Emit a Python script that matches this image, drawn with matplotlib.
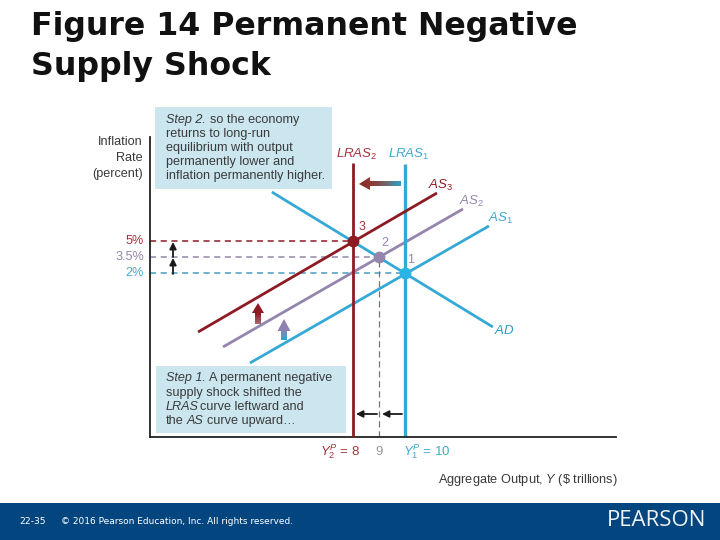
import numpy as np
import matplotlib
matplotlib.use("Agg")
import matplotlib.pyplot as plt
from matplotlib.colors import LinearSegmentedColormap
from matplotlib.patches import Polygon, Rectangle

plt.rcParams['font.family'] = ['Liberation Sans', 'DejaVu Sans']
plt.rcParams['mathtext.fontset'] = 'custom'
plt.rcParams['mathtext.rm'] = 'Liberation Sans'
plt.rcParams['mathtext.it'] = 'Liberation Sans:italic'

# ---- data (output in $ trillions, inflation in percent) ----
ad_x = [4.88, 13.38];   ad_y = [9.59, -3.06]
as1_x = [4.04, 13.23];  as1_y = [-6.43, 6.41]
as2_x = [3.00, 12.23];  as2_y = [-4.93, 8.00]
as3_x = [2.04, 11.23];  as3_y = [-3.53, 9.50]
lras_x = [8, 10]
lras_top = [12.3, 12.2]
eq_x = [10, 9, 8]
eq_y = [2, 3.5, 5]
eq_labels = ['1', '2', '3']
y_tick_labels = ['2%', '3.5%', '5%']
title_lines = ['Figure 14 Permanent Negative', 'Supply Shock']

RED = '#8e1a24'
PURPLE = '#9485ad'
BLUE = '#35a9d6'
DOT = '#2db2e6'
BOX = '#cbe6ef'
GRAYT = '#3a3a3a'

fig = plt.figure(figsize=(7.2, 5.4), dpi=100, facecolor='white')

# main axes: left spine at px 150, bottom at px 437
ax = fig.add_axes([150/720, 1-437/540, (616-150)/720, (437-137)/540])
ax.set_xlim(8-(353-150)/26, 8+(616-353)/26)
ax.set_ylim(5-(437-241)/10.67, 5+(241-137)/10.67)
ax.patch.set_alpha(0)
for s in ('top', 'right'):
    ax.spines[s].set_visible(False)
for s in ('left', 'bottom'):
    ax.spines[s].set_color('#222222')
    ax.spines[s].set_linewidth(1.3)
ax.set_xticks([])
ax.set_yticks([])

x0 = ax.get_xlim()[0]
dash = (0, (4, 3))
colors = ['#4a9dbd', PURPLE, RED]
for x, y, c in zip(eq_x, eq_y, colors):
    ax.plot([x0, x], [y, y], color=c, lw=1.1, ls=dash, zorder=1)
ax.plot([9, 9], [ax.get_ylim()[0], 3.5], color='#777777', lw=0.9, ls=(0, (5, 3)), zorder=1)

ax.plot(ad_x, ad_y, color=BLUE, lw=2.0, zorder=2, solid_capstyle='butt')
ax.plot(as1_x, as1_y, color=BLUE, lw=2.0, zorder=2, solid_capstyle='butt')
ax.plot(as2_x, as2_y, color=PURPLE, lw=2.0, zorder=2, solid_capstyle='butt')
ax.plot(as3_x, as3_y, color=RED, lw=2.0, zorder=3, solid_capstyle='butt')
yb = ax.get_ylim()[0]
ax.plot([lras_x[0]]*2, [yb, lras_top[0]], color=RED, lw=2.0, zorder=3, solid_capstyle='butt')
ax.plot([lras_x[1]]*2, [yb, lras_top[1]], color=BLUE, lw=2.4, zorder=2, solid_capstyle='butt')
for x, y, c in zip(eq_x, eq_y, [DOT, PURPLE, RED]):
    ax.plot([x], [y], 'o', color=c, ms=8.5, mec='none', zorder=5)

# overlay in pixel coordinates for annotation
ov = fig.add_axes([0, 0, 1, 1])
ov.set_xlim(0, 720)
ov.set_ylim(540, 0)
ov.axis('off')
ov.patch.set_alpha(0)

# footer
ov.add_patch(Rectangle((0, 503), 720, 37, color='#03467f', lw=0, zorder=0))
ov.text(19, 521.5, '22-35', color='white', fontsize=6.6, family='DejaVu Sans', va='center')
ov.text(61, 521.5, '© 2016 Pearson Education, Inc. All rights reserved.', color='white',
        fontsize=6.5, family='DejaVu Sans', va='center')
ov.text(706, 521, 'PEARSON', color='#eef3f7', fontsize=16, family='Open Sans', va='center', ha='right')

# title
for t, yy in zip(title_lines, [27, 66]):
    ov.text(31, yy, t, fontsize=22.8, fontweight='bold', family='DejaVu Sans', color='#111111', va='center')

# step boxes
ov.add_patch(Rectangle((155, 107), 177, 82, color=BOX, lw=0, zorder=1))
ov.add_patch(Rectangle((156, 366), 190, 67, color=BOX, lw=0, zorder=1))
fs = 9.1
s2 = ['so the economy', 'returns to long-run', 'equilibrium with output',
      'permanently lower and', 'inflation permanently higher.']
ov.text(166, 119.5, 'Step 2.', style='italic', fontsize=fs, color=GRAYT, va='center', zorder=2)
ov.text(210, 119.5, s2[0], fontsize=fs, color=GRAYT, va='center', zorder=2)
for line, yy in zip(s2[1:], [133.5, 148, 162.5, 176.5]):
    ov.text(166, yy, line, fontsize=fs, color=GRAYT, va='center', zorder=2)
ov.text(166, 378.5, 'Step 1.', style='italic', fontsize=fs, color=GRAYT, va='center', zorder=2)
ov.text(209, 378.5, 'A permanent negative', fontsize=fs, color=GRAYT, va='center', zorder=2)
ov.text(166, 393, 'supply shock shifted the', fontsize=fs, color=GRAYT, va='center', zorder=2)
ov.text(166, 407, 'LRAS', style='italic', fontsize=fs, color=GRAYT, va='center', zorder=2)
ov.text(200, 407, 'curve leftward and', fontsize=fs, color=GRAYT, va='center', zorder=2)
ov.text(166, 421, 'the', fontsize=fs, color=GRAYT, va='center', zorder=2)
ov.text(187, 421, 'AS', style='italic', fontsize=fs, color=GRAYT, va='center', zorder=2)
ov.text(207, 421, 'curve upward…', fontsize=fs, color=GRAYT, va='center', zorder=2)

# y axis title
for t, yy in zip(['Inflation', 'Rate', '(percent)'], [142, 158, 174]):
    ov.text(143, yy, t, ha='right', va='center', fontsize=fs, color=GRAYT)
# y tick labels
for t, yy, c in zip(y_tick_labels, [273.5, 257, 241], ['#4aa9cc', PURPLE, '#a8323a']):
    ov.text(144, yy, t, ha='right', va='center', fontsize=fs, color=c)

# curve labels
def lab(x, y, t, c):
    ov.text(x, y, t, color=c, fontsize=9.5, va='center', ha='left')
lab(336, 154, r'$\mathit{LRAS}_2$', '#a8323a')
lab(388, 154, r'$\mathit{LRAS}_1$', '#3fa9d0')
lab(428, 185, r'$\mathit{AS}_3$', RED)
lab(459, 201, r'$\mathit{AS}_2$', PURPLE)
lab(488, 218, r'$\mathit{AS}_1$', '#3fa9d0')
lab(494, 331, r'$\mathit{AD}$', '#2a9cc8')

# point numbers
ov.text(362, 227, eq_labels[2], color='#a8323a', fontsize=9, ha='center', va='center')
ov.text(385, 243, eq_labels[1], color=PURPLE, fontsize=9, ha='center', va='center')
ov.text(411, 260, eq_labels[0], color=PURPLE, fontsize=9, ha='center', va='center')

# x tick labels
ov.text(320, 452, r'$\mathit{Y}_{2}^{P}$ = 8', color='#a8323a', fontsize=9.5, va='center')
ov.text(379, 452, '9', color='#999999', fontsize=9.5, va='center', ha='center')
ov.text(403, 452, r'$\mathit{Y}_{1}^{P}$ = 10', color='#3fa9d0', fontsize=9.5, va='center')
ov.text(438, 480, r'Aggregate Output, $\mathit{Y}$ (\$ trillions)',
        color=GRAYT, fontsize=9.15, va='center')

# small black arrows
def arrow(x1, y1, x2, y2):
    ov.annotate('', xy=(x2, y2), xytext=(x1, y1),
                arrowprops=dict(arrowstyle='-|>,head_width=0.2,head_length=0.4',
                                color='#1a1a1a', lw=1.3, shrinkA=0, shrinkB=0))
arrow(173, 257, 173, 242)
arrow(173, 274, 173, 258)
arrow(377, 414, 356, 414)
arrow(402, 414, 382, 414)

# gradient block arrows
def grad_arrow(poly, stops, horizontal=False):
    cm = LinearSegmentedColormap.from_list('g', stops)
    pts = np.array(poly)
    xa, xb, ya, yb_ = pts[:, 0].min(), pts[:, 0].max(), pts[:, 1].min(), pts[:, 1].max()
    g = np.linspace(0, 1, 64)
    g = g[None, :] if horizontal else g[:, None]
    im = ov.imshow(g, cmap=cm, extent=(xa, xb, yb_, ya), aspect='auto', zorder=3, origin='upper')
    im.set_clip_path(Polygon(poly, transform=ov.transData))

grad_arrow([(359, 184), (370, 177), (370, 181), (401, 181), (401, 186), (370, 186), (370, 190)],
           ['#8e2a2a', '#8e3a35', '#6f6a70', '#2c9fc4'], True)
grad_arrow([(258, 303), (264, 313), (261, 313), (261, 324), (255, 324), (255, 313), (252, 313)],
           ['#8e1a24', '#8e1a24', '#a86a72'])
grad_arrow([(284, 319), (290.5, 331), (287, 331), (287, 340), (281, 340), (281, 331), (277.5, 331)],
           ['#9080b0', '#9080b0', '#2fa9cf'])
ov.set_xlim(0, 720)
ov.set_ylim(540, 0)

fig.savefig('out.png', dpi=100)
